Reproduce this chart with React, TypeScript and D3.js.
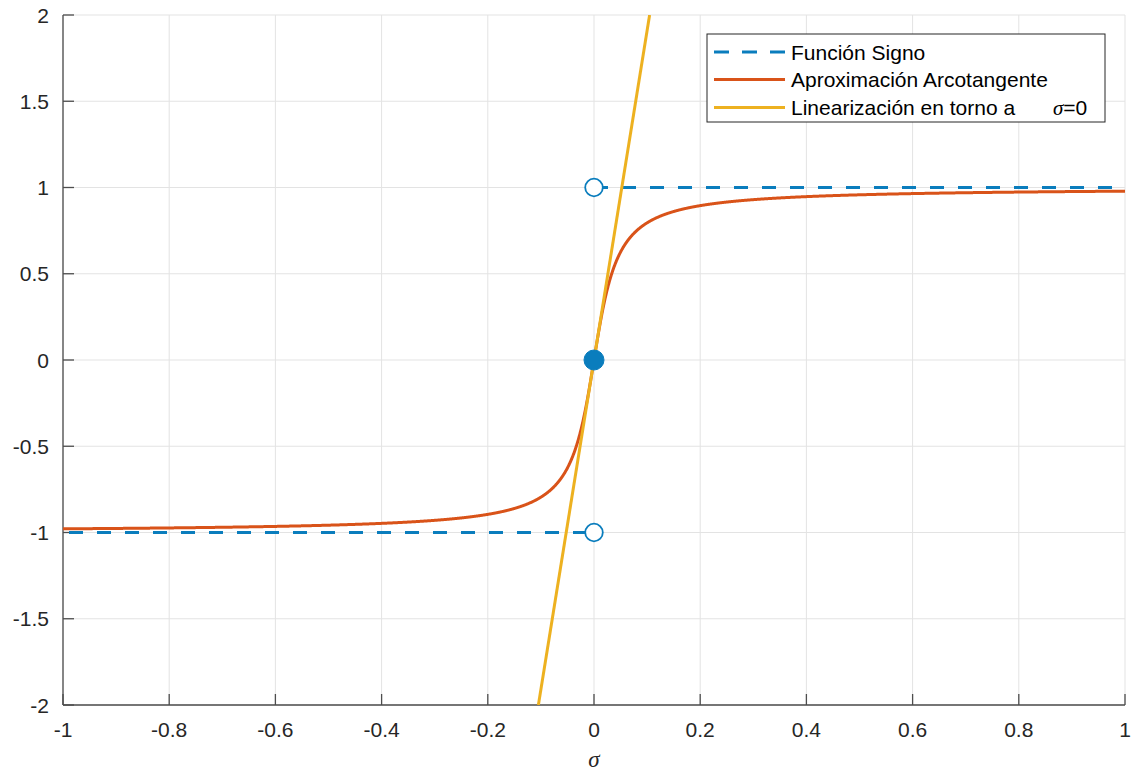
import React from "react";
import * as d3 from "d3";

// Sign function and its arctangent smoothing: y = (2/π)·atan(σ/ε)
const EPSILON = 1 / 30;
const X_TICKS = [-1, -0.8, -0.6, -0.4, -0.2, 0, 0.2, 0.4, 0.6, 0.8, 1];
const Y_TICKS = [-2, -1.5, -1, -0.5, 0, 0.5, 1, 1.5, 2];
const SIGN_NEG = [[-1, -1], [0, -1]];
const SIGN_POS = [[0, 1], [1, 1]];
const OPEN_MARKERS = [[0, 1], [0, -1]];
const FILLED_MARKERS = [[0, 0]];
const LEGEND_LABELS = ["Función Signo", "Aproximación Arcotangente", "Linearización en torno a"];

const W = 1135;
const H = 774;
const M = { left: 63, right: 10, top: 15, bottom: 69 };

const BLUE = "#0a7dbd";
const RED = "#D95319";
const YELLOW = "#EDB120";
const TEXT = "#262626";
const FONT = "'Liberation Sans', Arial, Helvetica, sans-serif";

export default function App() {
  const x = d3.scaleLinear().domain([-1, 1]).range([M.left, W - M.right]);
  const y = d3.scaleLinear().domain([-2, 2]).range([H - M.bottom, M.top]);

  const sigmas = d3.range(-1, 1.00001, 0.0005);
  const arctan = sigmas.map((s) => [s, (2 / Math.PI) * Math.atan(s / EPSILON)]);
  const slope = 2 / Math.PI / EPSILON;
  const linear = [[-2 / slope, -2], [2 / slope, 2]];

  const line = d3
    .line<number[]>()
    .x((d) => x(d[0]))
    .y((d) => y(d[1]));

  const [x0, x1] = x.range();
  const [yb, yt] = y.range();

  const legendX = 707;
  const legendY = 34;
  const rowY = [52, 79.5, 107.5];

  return (
    <svg width={W} height={H} style={{ display: "block", position: "absolute", left: 0, top: 0, background: "#fff" }}>
      <defs>
        <clipPath id="plotClip">
          <rect x={x0} y={yt} width={x1 - x0} height={yb - yt} />
        </clipPath>
      </defs>
      <rect x={0} y={0} width={W} height={H} fill="#fff" />

      {/* grid */}
      <g stroke="#e3e3e3" strokeWidth={1}>
        {X_TICKS.map((t) => (
          <line key={"gx" + t} x1={x(t)} x2={x(t)} y1={yt} y2={yb} />
        ))}
        {Y_TICKS.map((t) => (
          <line key={"gy" + t} x1={x0} x2={x1} y1={y(t)} y2={y(t)} />
        ))}
      </g>

      {/* axes */}
      <g stroke="#4d4d4d" strokeWidth={1.3} fill="none">
        <line x1={x0} x2={x1} y1={yb} y2={yb} />
        <line x1={x0} x2={x0} y1={yt} y2={yb} />
        {X_TICKS.map((t) => (
          <line key={"tx" + t} x1={x(t)} x2={x(t)} y1={yb} y2={yb - 11} />
        ))}
        {Y_TICKS.map((t) => (
          <line key={"ty" + t} x1={x0} x2={x0 + 11} y1={y(t)} y2={y(t)} />
        ))}
      </g>

      <g fontFamily={FONT} fontSize={21} fill={TEXT}>
        {X_TICKS.map((t) => (
          <text key={"lx" + t} x={x(t)} y={737} textAnchor="middle">
            {String(t)}
          </text>
        ))}
        {Y_TICKS.map((t) => (
          <text key={"ly" + t} x={49} y={y(t) + 7.5} textAnchor="end">
            {String(t)}
          </text>
        ))}
      </g>
      <text x={x(0)} y={767} textAnchor="middle" fontFamily="'Liberation Serif', 'DejaVu Serif', serif" fontStyle="italic" fontSize={23} fill={TEXT}>
        σ
      </text>

      {/* series */}
      <g clipPath="url(#plotClip)" fill="none" strokeWidth={3}>
        <path d={line(SIGN_NEG) ?? ""} stroke={BLUE} strokeDasharray="14 14" strokeDashoffset={-6} />
        <path d={line(SIGN_POS) ?? ""} stroke={BLUE} strokeDasharray="14 14" />
        <path d={line(arctan) ?? ""} stroke={RED} strokeLinejoin="round" />
        <path d={line(linear) ?? ""} stroke={YELLOW} />
      </g>

      {OPEN_MARKERS.map((p, i) => (
        <circle key={"om" + i} cx={x(p[0])} cy={y(p[1])} r={8.8} fill="#fff" stroke={BLUE} strokeWidth={1.8} />
      ))}
      {FILLED_MARKERS.map((p, i) => (
        <circle key={"fm" + i} cx={x(p[0])} cy={y(p[1])} r={10} fill={BLUE} stroke={BLUE} strokeWidth={1} />
      ))}

      {/* legend */}
      <g>
        <rect x={legendX} y={legendY} width={398} height={88} fill="#fff" stroke={TEXT} strokeWidth={1} />
        <line x1={714} x2={785} y1={rowY[0]} y2={rowY[0]} stroke={BLUE} strokeWidth={3} strokeDasharray="15 13" />
        <line x1={714} x2={785} y1={rowY[1]} y2={rowY[1]} stroke={RED} strokeWidth={3} />
        <line x1={714} x2={785} y1={rowY[2]} y2={rowY[2]} stroke={YELLOW} strokeWidth={3} />
        <g fontFamily={FONT} fontSize={21} fill="#000">
          {LEGEND_LABELS.map((l, i) => (
            <text key={l} x={791} y={rowY[i] + 7.5}>
              {l}
            </text>
          ))}
          <text x={1053} y={rowY[2] + 7.5}>
            <tspan fontFamily="'Liberation Serif', 'DejaVu Serif', serif" fontStyle="italic">σ</tspan>
            <tspan>=0</tspan>
          </text>
        </g>
      </g>
    </svg>
  );
}
